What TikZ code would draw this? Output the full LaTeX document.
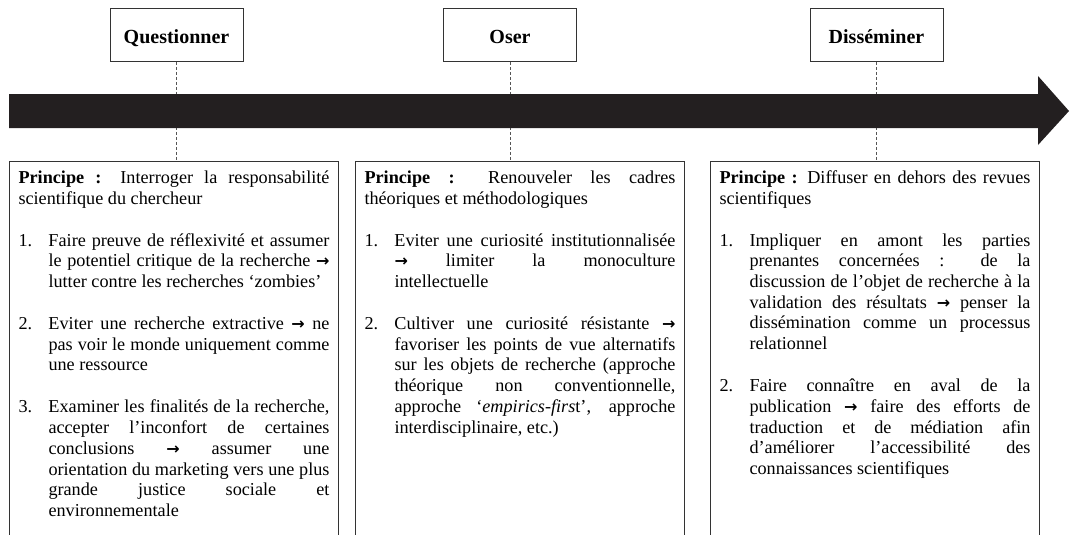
\documentclass[tikz,border=0pt]{standalone}
\usepackage{fontspec}
\setmainfont{Liberation Serif}
\newfontfamily\arrowfont{DejaVu Sans}
\definecolor{boxgray}{HTML}{333333}
\definecolor{dashgray}{HTML}{555555}
\definecolor{arrowfill}{HTML}{231F20}
\newcommand{\rarr}{{\arrowfont\bfseries\fontsize{16pt}{18pt}\selectfont →}}
\newcommand{\itm}[2]{\par\noindent\hangindent=30pt\hangafter=1\makebox[30pt][l]{#1}\ignorespaces#2\par}
\newcommand{\boxtext}[1]{\parbox[t][380pt][t]{311pt}{\fontsize{18.2pt}{20.7pt}\selectfont
  \setlength\parskip{21.3pt}\tolerance=10000\hbadness=10000\hyphenpenalty=10000\exhyphenpenalty=10000\strut#1}}
\begin{document}
\begin{tikzpicture}[x=1pt,y=-1pt,
  titlebox/.style={draw=boxgray, line width=0.9pt, minimum width=133pt, minimum height=53pt, inner sep=0pt,
    text height=17pt, text depth=0pt, font=\fontsize{20pt}{24pt}\selectfont\bfseries},
  contentbox/.style={draw=boxgray, line width=1pt, anchor=north west, inner xsep=9pt, inner ysep=7.5pt, align=left},
  guide/.style={draw=dashgray, line width=0.6pt, dash pattern=on 3pt off 2pt}]
\useasboundingbox (0,0) rectangle (1070,535);
\clip (0,0) rectangle (1070,535);
\fill[white] (0,0) rectangle (1070,535);

\node[titlebox] (q) at (176.5,35) {Questionner};
\node[titlebox] (o) at (510,35) {Oser};
\node[titlebox] (d) at (876.5,35) {Disséminer};

\node[contentbox] (cq) at (9,161) {\boxtext{%
\textbf{Principe :} Interroger la responsabilité\linebreak scientifique du chercheur\par
\itm{1.}{Faire preuve de réflexivité et assumer\linebreak le potentiel critique de la recherche \rarr\linebreak lutter contre les recherches ‘zombies’}
\itm{2.}{Eviter une recherche extractive \rarr{} ne\linebreak pas voir le monde uniquement comme\linebreak une ressource}
\itm{3.}{Examiner les finalités de la recherche,\linebreak accepter l’inconfort de certaines\linebreak conclusions \rarr{} assumer une\linebreak orientation du marketing vers une plus\linebreak grande justice sociale et\linebreak environnementale}}};

\node[contentbox] (co) at (355,161) {\boxtext{%
\textbf{Principe :} Renouveler les cadres\linebreak théoriques et méthodologiques\par
\itm{1.}{Eviter une curiosité institutionnalisée\linebreak \rarr{} limiter la monoculture\linebreak intellectuelle}
\itm{2.}{Cultiver une curiosité résistante \rarr\linebreak favoriser les points de vue alternatifs\linebreak sur les objets de recherche (approche\linebreak théorique non conventionnelle,\linebreak approche ‘\textit{empirics-firs}t’, approche\linebreak interdisciplinaire, etc.)}}};

\node[contentbox] (cd) at (710,161) {\boxtext{%
\textbf{Principe :} Diffuser en dehors des revues\linebreak scientifiques\par
\itm{1.}{Impliquer en amont les parties\linebreak prenantes concernées : de la\linebreak discussion de l’objet de recherche à la\linebreak validation des résultats \rarr{} penser la\linebreak dissémination comme un processus\linebreak relationnel}
\itm{2.}{Faire connaître en aval de la\linebreak publication \rarr{} faire des efforts de\linebreak traduction et de médiation afin\linebreak d’améliorer l’accessibilité des\linebreak connaissances scientifiques}}};

\draw[guide] (q.south) -- (q.south |- cq.north);
\draw[guide] (o.south) -- (o.south |- co.north);
\draw[guide] (d.south) -- (d.south |- cd.north);

\fill[arrowfill] (9,94) -- (1038,94) -- (1038,76) -- (1069,111) -- (1038,145) -- (1038,128) -- (9,128) -- cycle;
\end{tikzpicture}
\end{document}
